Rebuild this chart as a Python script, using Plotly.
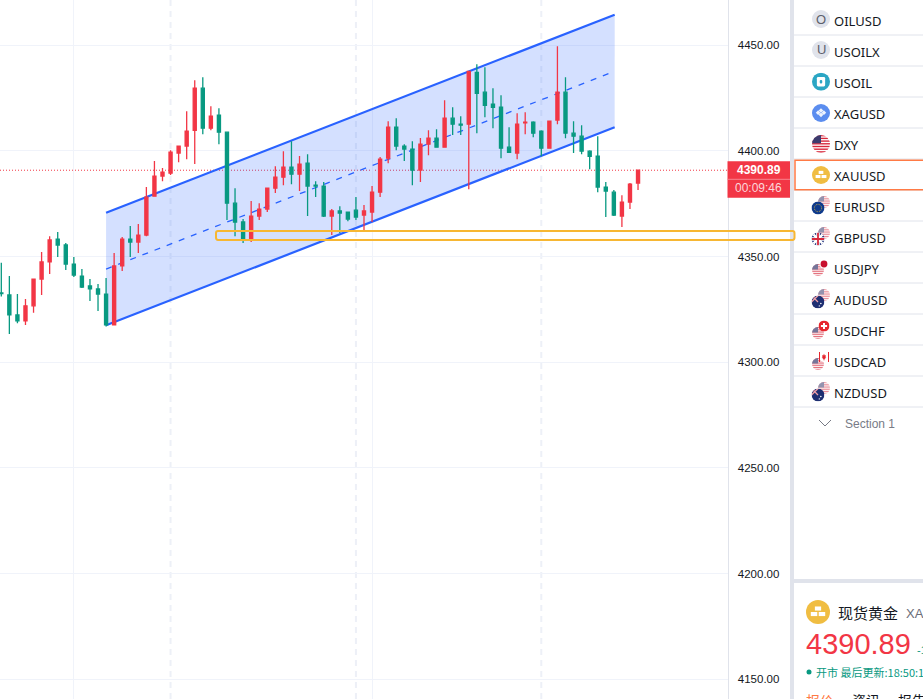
import base64
import plotly.graph_objects as go

W, H = 923, 699

opens = [4332.8, 4331.9, 4322.4, 4319.6, 4326.7, 4339.4, 4347.5, 4358.3, 4355.5, 4346.5,
         4340.8, 4336.1, 4334.7, 4332.3, 4317.7, 4345.6, 4358.3, 4356.9, 4360.2, 4378.6,
         4388.1, 4389.5, 4399.0, 4402.3, 4409.8, 4429.7, 4410.8, 4416.9, 4408.9, 4375.3,
         4366.4, 4357.9, 4369.2, 4372.5, 4382.4, 4387.6, 4392.3, 4389.0, 4394.2, 4383.8,
         4383.4, 4369.2, 4371.6, 4371.1, 4372.0, 4369.7, 4371.1, 4380.5, 4396.6, 4411.3,
         4402.3, 4400.9, 4390.9, 4403.2, 4406.1, 4401.8, 4415.5, 4412.7, 4412.7, 4437.2,
         4427.8, 4422.1, 4420.7, 4401.8, 4399.0, 4413.3, 4413.6, 4409.4, 4401.3, 4414.6,
         4427.8, 4408.4, 4407.0, 4399.9, 4397.5, 4382.9, 4380.5, 4369.2, 4375.8, 4384.8]
highs = [4347.1, 4340.8, 4332.3, 4330.0, 4339.4, 4352.2, 4359.7, 4361.6, 4356.4, 4349.8,
         4344.1, 4339.4, 4337.1, 4339.9, 4351.7, 4359.3, 4364.5, 4365.4, 4382.9, 4395.2,
         4391.9, 4400.4, 4402.3, 4418.8, 4433.5, 4434.9, 4421.2, 4420.2, 4408.9, 4382.4,
         4367.8, 4376.3, 4375.3, 4382.4, 4392.8, 4399.9, 4404.6, 4397.6, 4398.5, 4385.7,
         4385.3, 4372.5, 4373.9, 4371.1, 4378.2, 4374.4, 4383.4, 4397.1, 4414.1, 4415.5,
         4403.2, 4404.6, 4406.1, 4409.8, 4410.3, 4424.0, 4420.7, 4416.4, 4437.7, 4441.0,
         4439.6, 4429.7, 4426.4, 4411.2, 4417.9, 4418.3, 4414.1, 4409.8, 4414.1, 4449.5,
         4434.9, 4414.1, 4412.2, 4400.4, 4407.0, 4385.3, 4381.5, 4379.1, 4384.8, 4390.89]
lows = [4331.1, 4313.4, 4318.5, 4317.7, 4323.4, 4331.9, 4341.8, 4349.8, 4343.7, 4340.4,
        4335.2, 4329.0, 4324.3, 4316.9, 4317.7, 4343.2, 4349.8, 4351.7, 4359.7, 4378.6,
        4385.7, 4388.6, 4394.7, 4396.1, 4393.8, 4407.9, 4409.8, 4403.2, 4367.3, 4359.7,
        4356.4, 4356.9, 4367.3, 4371.1, 4380.1, 4383.8, 4384.3, 4381.0, 4369.2, 4378.2,
        4368.7, 4360.2, 4361.2, 4366.8, 4367.3, 4362.6, 4366.4, 4378.2, 4394.2, 4400.4,
        4395.2, 4383.8, 4385.3, 4398.0, 4401.8, 4401.8, 4407.5, 4407.5, 4381.9, 4408.4,
        4416.0, 4410.8, 4396.6, 4399.0, 4396.1, 4407.9, 4406.5, 4397.5, 4401.3, 4412.7,
        4406.0, 4399.0, 4398.5, 4391.4, 4380.5, 4368.7, 4369.2, 4364.0, 4372.5, 4381.5]
closes = [4332.5, 4322.4, 4319.6, 4326.7, 4339.4, 4347.5, 4357.9, 4355.5, 4346.5, 4341.3,
          4335.6, 4334.7, 4332.3, 4317.7, 4345.6, 4358.3, 4356.9, 4360.2, 4378.2, 4388.1,
          4390.0, 4399.4, 4402.3, 4409.4, 4429.7, 4410.8, 4416.5, 4408.9, 4375.3, 4366.4,
          4358.3, 4369.2, 4372.5, 4382.4, 4387.6, 4392.3, 4389.0, 4393.8, 4383.4, 4383.4,
          4369.2, 4371.6, 4370.6, 4367.8, 4368.7, 4371.6, 4380.5, 4396.1, 4411.3, 4402.3,
          4400.9, 4390.9, 4403.2, 4406.1, 4401.8, 4415.5, 4412.7, 4412.2, 4437.7, 4427.3,
          4421.6, 4420.7, 4401.3, 4399.4, 4412.7, 4413.6, 4408.4, 4401.3, 4414.1, 4427.8,
          4408.4, 4407.0, 4399.9, 4397.5, 4382.9, 4381.0, 4369.7, 4375.8, 4384.3, 4390.89]

last_price = 4390.89
countdown = "00:09:46"
price_ticks = [4150, 4200, 4250, 4300, 4350, 4400, 4450]
solid_grid_x = [9, 46]
dashed_grid_x = [21, 44, 67]

channel_x = [13, 76.1]
channel_upper = [4370.8, 4464.5]
channel_mid = [4344.1, 4437.7]
channel_lower = [4317.5, 4411.2]
zone_prices = [4357.9, 4362.1]

symbols = ["OILUSD", "USOILX", "USOIL", "XAGUSD", "DXY", "XAUUSD", "EURUSD", "GBPUSD",
           "USDJPY", "AUDUSD", "USDCHF", "USDCAD", "NZDUSD"]

RED = "#f23645"
GREEN = "#089981"
BLUE = "#2962ff"
GRID = "#f0f3fa"
BORDER = "#e0e3eb"
GOLD = "#f0bd42"
INK = "#131722"
CJK = "Noto Sans CJK SC"


def px(x):
    return x / W


def py(y):
    return 1 - y / H


def label(x, y, text, size=13, color=INK, family=CJK, anchor="left"):
    return dict(xref="paper", yref="paper", x=px(x), y=py(y), text=text, showarrow=False,
                borderpad=0, borderwidth=0,
                xanchor=anchor, yanchor="middle", font=dict(size=size, color=color, family=family))


def box(x0, y0, x1, y1, fill=None, line=None, width=1):
    return dict(type="rect", xref="paper", yref="paper", x0=px(x0), x1=px(x1), y0=py(y0), y1=py(y1),
                fillcolor=fill or "rgba(0,0,0,0)", line=dict(color=line or "rgba(0,0,0,0)", width=width), layer="above")


# little svg badges, drawn in a 100x100 box
def disc(inner, cid):
    return f'<clipPath id="{cid}"><circle cx="50" cy="50" r="50"/></clipPath><g clip-path="url(#{cid})">{inner}</g>'


def us_flag(cid="us", fade=1):
    stripes = "".join(f'<rect x="0" y="{y}" width="100" height="7.7" fill="#d8283c"/>' for y in range(0, 100, 15))
    inner = f'<rect width="100" height="100" fill="#fff"/>{stripes}<rect width="50" height="46" fill="#3c3b6e"/>'
    return f'<g opacity="{fade}">{disc(inner, cid)}</g>'


def gold_bars():
    return ('<circle cx="50" cy="50" r="50" fill="#f0bd42"/>'
            '<rect x="37" y="27" width="26" height="17" fill="#fff"/>'
            '<rect x="20" y="50" width="27" height="17" fill="#fff"/>'
            '<rect x="53" y="50" width="27" height="17" fill="#fff"/>')


def svg_uri(body):
    svg = f'<svg xmlns="http://www.w3.org/2000/svg" viewBox="0 0 100 100">{body}</svg>'
    return "data:image/svg+xml;base64," + base64.b64encode(svg.encode()).decode()


def badge(cx, cy, r, body):
    return dict(source=svg_uri(body), xref="paper", yref="paper", x=px(cx - r), y=py(cy - r),
                sizex=2 * r / W, sizey=2 * r / H, xanchor="left", yanchor="top", sizing="stretch", layer="above")


eu = '<circle cx="50" cy="50" r="50" fill="#0f3a8c"/><circle cx="50" cy="50" r="28" fill="none" stroke="#f2c230" stroke-width="7" stroke-dasharray="6 8"/>'
gb = disc('<rect width="100" height="100" fill="#26357d"/><path d="M0 0L100 100M100 0L0 100" stroke="#fff" stroke-width="18"/>'
          '<path d="M50 0V100M0 50H100" stroke="#fff" stroke-width="28"/><path d="M50 0V100M0 50H100" stroke="#d8283c" stroke-width="14"/>', "gb")
oz = disc('<rect width="100" height="100" fill="#1e2f72"/><path d="M0 0L50 50M50 0L0 50" stroke="#f0a0a8" stroke-width="10"/>'
          '<circle cx="72" cy="62" r="6" fill="#fff"/><circle cx="60" cy="80" r="5" fill="#fff"/>', "oz")
jp = '<circle cx="50" cy="50" r="50" fill="#fff"/><circle cx="50" cy="50" r="38" fill="#c8102e"/>'
ch = '<circle cx="50" cy="50" r="50" fill="#e6262e"/><path d="M50 22V78M22 50H78" stroke="#fff" stroke-width="18"/>'
ca = ('<circle cx="50" cy="50" r="50" fill="#fff"/><path d="M0 0H10V100H0ZM90 0H100V100H90Z" fill="#e6262e"/>'
      '<path d="M50 18L58 36L70 32L64 54L74 56L56 70L52 84H48L44 70L26 56L36 54L30 32L42 36Z" fill="#e6262e"/>')
usoil = ('<circle cx="50" cy="50" r="50" fill="#2ba6c4"/><rect x="27" y="24" width="46" height="52" rx="7" fill="#fff"/>'
         '<rect x="43" y="40" width="14" height="20" rx="6" fill="#2ba6c4"/>')
xag = ('<circle cx="50" cy="50" r="50" fill="#5b8def"/>'
       + "".join(f'<path d="M{x} {y-13}L{x+13} {y}L{x} {y+13}L{x-13} {y}Z" fill="#fff" opacity="0.9"/>'
                 for x, y in [(50, 36), (34, 48), (66, 48), (50, 60)]))

row_y = [21 + 31 * i for i in range(len(symbols))]

fig = go.Figure(go.Candlestick(
    x=list(range(len(opens))), open=opens, high=highs, low=lows, close=closes,
    increasing=dict(line=dict(color=RED, width=1.3), fillcolor=RED),
    decreasing=dict(line=dict(color=GREEN, width=1.3), fillcolor=GREEN),
    whiskerwidth=0, showlegend=False, hoverinfo="skip",
))

shapes = []
# grid dashes first, then the channel, all of it under the candles
for x in dashed_grid_x:
    shapes.append(dict(type="line", layer="between", x0=x, x1=x, yref="paper", y0=0, y1=1,
                       line=dict(color="#edf0f7", width=2, dash="6px,5px")))
shapes.append(dict(type="path", layer="between", line=dict(width=0), fillcolor="rgba(41,98,255,0.2)",
                   path=f"M{channel_x[0]},{channel_upper[0]}L{channel_x[1]},{channel_upper[1]}"
                        f"L{channel_x[1]},{channel_lower[1]}L{channel_x[0]},{channel_lower[0]}Z"))
for ys, dash, w in [(channel_upper, "solid", 2.2), (channel_lower, "solid", 2.2), (channel_mid, "6px,7px", 1.3)]:
    shapes.append(dict(type="line", layer="between", x0=channel_x[0], x1=channel_x[1], y0=ys[0], y1=ys[1],
                       line=dict(color=BLUE, width=w, dash=dash)))
shapes.append(dict(type="line", layer="between", xref="paper", x0=0, x1=727.5 / W, y0=last_price, y1=last_price,
                   line=dict(color=RED, width=1, dash="1px,2px")))

# right hand panels
shapes.append(box(790, 0, 794, H, fill=BORDER))
shapes.append(box(794, 579, W, 583, fill=BORDER))
for y in [35 + 31 * i for i in range(13)]:
    shapes.append(dict(type="line", xref="paper", yref="paper", x0=px(794), x1=1, y0=py(y), y1=py(y),
                       line=dict(color=BORDER, width=1), layer="above"))
shapes.append(box(795, 160.3, W + 3, 189.7, line="#ff7a45", width=1.5))
shapes.append(dict(type="path", xref="paper", yref="paper", layer="above", line=dict(color="#787b86", width=1),
                   path=f"M{px(819)},{py(420)}L{px(825)},{py(426)}L{px(831)},{py(420)}"))

# support zone, runs over the price scale, corners slightly rounded
zl, zr = px(216), px(794.5)
zb, zt = zone_prices
dx, dy = 2 / W, 1
shapes.append(dict(type="path", xref="paper", layer="above", line=dict(color="#f7b733", width=2),
                   fillcolor="rgba(0,0,0,0)",
                   path=f"M{zl + dx},{zt}L{zr - dx},{zt}Q{zr},{zt} {zr},{zt - dy}L{zr},{zb + dy}Q{zr},{zb} {zr - dx},{zb}"
                        f"L{zl + dx},{zb}Q{zl},{zb} {zl},{zb + dy}L{zl},{zt - dy}Q{zl},{zt} {zl + dx},{zt}Z"))

# last price tag
shapes.append(box(727.5, 161.3, 790, 197.7, fill=RED))
shapes.append(dict(type="line", xref="paper", yref="paper", x0=px(727.5), x1=px(790), y0=py(179.3), y1=py(179.3),
                   line=dict(color="#f8848e", width=1), layer="above"))
shapes.append(dict(type="circle", xref="paper", yref="paper", x0=px(806.5), x1=px(811.5), y0=py(669.5), y1=py(674.5),
                   fillcolor=GREEN, line=dict(width=0), layer="above"))

annotations = [
    label(758.7, 170, f"<b>{last_price:.2f}</b>", size=12, color="#ffffff", family="Liberation Sans", anchor="center"),
    label(758.7, 188, countdown, size=12, color="#fcd6da", family="Liberation Sans", anchor="center"),
    label(821, 19, "O", size=13, color="#5d606b", family="Liberation Sans", anchor="center"),
    label(821, 50, "U", size=13, color="#5d606b", family="Liberation Sans", anchor="center"),
    label(845, 424, "Section 1", size=12, color="#787b86", family="Liberation Sans"),
    label(838, 612, "现货黄金", size=15, color=INK),
    label(906, 613, "XAUUSD", size=13, color="#6a6d78", family="Liberation Sans"),
    label(806, 644, f"{last_price:.2f}", size=29, color=RED, family="Liberation Sans"),
    label(917, 650, "-1", size=11, color=GREEN, family="Liberation Sans"),
    label(816, 672, "开市 最后更新:18:50:12", size=11, color=GREEN),
    label(806, 700, "报价", size=14, color="#ff7a45"),
    label(852, 700, "资讯", size=14),
    label(898, 700, "报告", size=14),
]
annotations += [label(834, y, s, size=13, family="Noto Sans") for s, y in zip(symbols, row_y)]

images = [
    badge(821, 19, 9, '<circle cx="50" cy="50" r="50" fill="#e0e3eb"/>'),
    badge(821, 50, 9, '<circle cx="50" cy="50" r="50" fill="#e0e3eb"/>'),
    badge(821, 81.7, 9, usoil),
    badge(821, 113, 9, xag),
    badge(821, 144, 9, us_flag("dxy")),
    badge(821, 175, 9, gold_bars()),
    badge(824, 202, 6, us_flag("e1", 0.55)), badge(818, 208, 6.5, eu),
    badge(824, 233, 6, us_flag("g1", 0.55)), badge(818, 239, 6.5, gb),
    badge(818, 270, 6, us_flag("j1", 0.7)), badge(824, 264, 4.5, jp),
    badge(824, 295, 6, us_flag("a1", 0.55)), badge(818, 302, 6.5, oz),
    badge(818, 333, 6, us_flag("c1", 0.7)), badge(824, 326, 5.5, ch),
    badge(818, 364, 6, us_flag("d1", 0.7)), badge(824, 357, 5, ca),
    badge(824, 388, 6, us_flag("n1", 0.55)), badge(818, 395, 6.5, oz),
    badge(818, 612, 12, gold_bars()),
]

fig.update_layout(
    width=W, height=H, autosize=False, margin=dict(l=0, r=0, t=0, b=0),
    paper_bgcolor="#ffffff", plot_bgcolor="#ffffff", boxgap=0.45,
    shapes=shapes, annotations=annotations, images=images,
    xaxis=dict(domain=[0, 727.5 / W], range=[-0.161, 90.1], rangeslider=dict(visible=False),
               tickmode="array", tickvals=solid_grid_x, showticklabels=False, ticks="",
               showgrid=True, gridcolor=GRID, gridwidth=1, zeroline=False, showline=False),
    yaxis=dict(side="right", range=[4140.67, 4471.44], tickmode="array", tickvals=price_ticks,
               tickformat=".2f", showgrid=True, gridcolor=GRID, gridwidth=1, zeroline=False,
               showline=True, linecolor=BORDER, linewidth=1, ticks="", ticklabelstandoff=7,
               tickfont=dict(size=11.5, color=INK, family="Liberation Sans")),
)

fig.write_html("out.html", config=dict(displayModeBar=False),
               post_script="document.body.style.margin='0';document.body.style.overflow='hidden';")
